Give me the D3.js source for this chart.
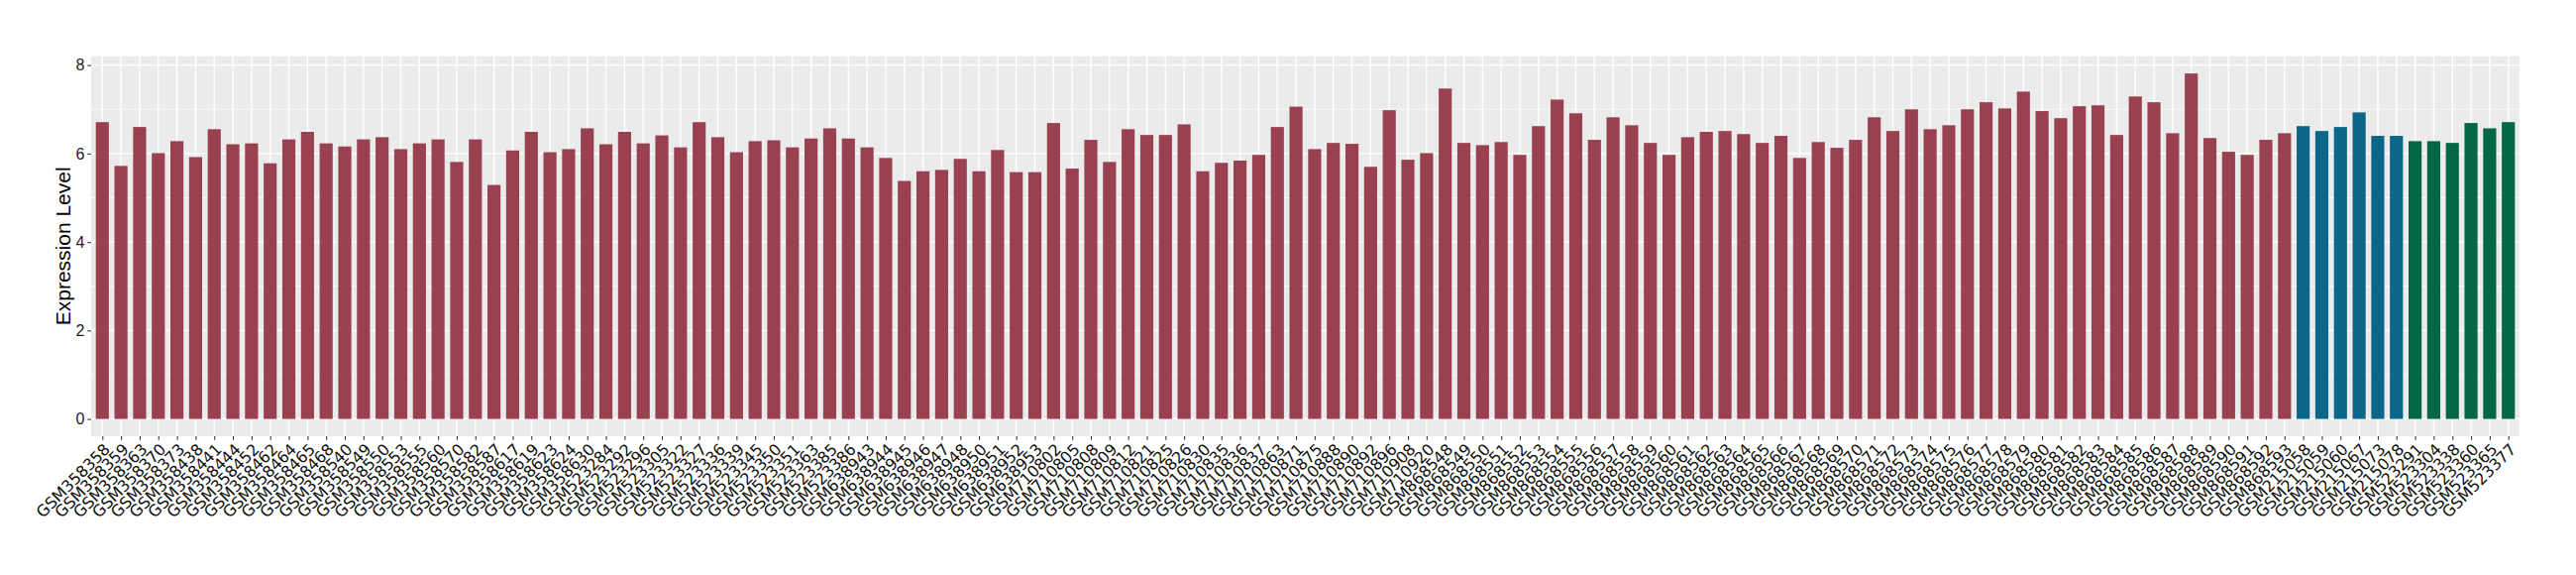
<!DOCTYPE html>
<html>
<head>
<meta charset="utf-8">
<script src="https://cdn.jsdelivr.net/npm/d3@7"></script>
<style>
  html, body { margin: 0; padding: 0; background: #ffffff; }
  svg { display: block; }
</style>
</head>
<body>
<svg id="chart" width="2600" height="580"></svg>
<script>
// ---------- DATA ----------
const categories = [
  "GSM358358","GSM358359","GSM358363","GSM358370","GSM358373","GSM358438","GSM358441","GSM358444","GSM358452","GSM358462",
  "GSM358464","GSM358465","GSM358468","GSM358540","GSM358549","GSM358550","GSM358553","GSM358555","GSM358560","GSM358570",
  "GSM358582","GSM358587","GSM358617","GSM358619","GSM358623","GSM358624","GSM358630","GSM523284","GSM523292","GSM523296",
  "GSM523305","GSM523322","GSM523327","GSM523336","GSM523339","GSM523345","GSM523350","GSM523351","GSM523363","GSM523385",
  "GSM523386","GSM638943","GSM638944","GSM638945","GSM638946","GSM638947","GSM638948","GSM638950","GSM638951","GSM638952",
  "GSM638953","GSM710802","GSM710805","GSM710808","GSM710809","GSM710812","GSM710821","GSM710825","GSM710826","GSM710830",
  "GSM710835","GSM710836","GSM710837","GSM710863","GSM710871","GSM710875","GSM710888","GSM710890","GSM710892","GSM710896",
  "GSM710908","GSM710920","GSM868548","GSM868549","GSM868550","GSM868551","GSM868552","GSM868553","GSM868554","GSM868555",
  "GSM868556","GSM868557","GSM868558","GSM868559","GSM868560","GSM868561","GSM868562","GSM868563","GSM868564","GSM868565",
  "GSM868566","GSM868567","GSM868568","GSM868569","GSM868570","GSM868571","GSM868572","GSM868573","GSM868574","GSM868575",
  "GSM868576","GSM868577","GSM868578","GSM868579","GSM868580","GSM868581","GSM868582","GSM868583","GSM868584","GSM868585",
  "GSM868586","GSM868587","GSM868588","GSM868589","GSM868590","GSM868591","GSM868592","GSM868593","GSM215058","GSM215059",
  "GSM215060","GSM215067","GSM215073","GSM215078","GSM523291","GSM523304","GSM523338","GSM523360","GSM523365","GSM523377"
];

const values = [
  6.71,5.72,6.60,6.01,6.28,5.92,6.55,6.21,6.23,5.78,
  6.32,6.49,6.23,6.16,6.32,6.37,6.10,6.23,6.32,5.81,
  6.32,5.29,6.07,6.49,6.03,6.10,6.57,6.21,6.49,6.23,
  6.41,6.14,6.71,6.37,6.03,6.28,6.30,6.14,6.34,6.57,
  6.34,6.14,5.90,5.38,5.60,5.63,5.88,5.60,6.08,5.58,
  5.58,6.69,5.66,6.31,5.81,6.55,6.42,6.42,6.66,5.60,
  5.79,5.84,5.97,6.60,7.06,6.10,6.24,6.22,5.70,6.98,
  5.86,6.01,7.47,6.24,6.19,6.26,5.97,6.62,7.22,6.91,
  6.31,6.82,6.64,6.24,5.97,6.37,6.49,6.51,6.44,6.24,
  6.40,5.90,6.26,6.13,6.31,6.82,6.51,7.00,6.55,6.64,
  7.00,7.16,7.02,7.40,6.96,6.80,7.07,7.09,6.42,7.29,
  7.16,6.46,7.81,6.35,6.04,5.97,6.31,6.46,6.62,6.51,
  6.60,6.93,6.40,6.40,6.28,6.28,6.24,6.69,6.57,6.71
];

// group sizes in order: red group, blue group, green group
const groupNames = ["group1", "group2", "group3"];
const groupSizes = [118, 6, 6];
const groupColors = ["#994150", "#0B6688", "#036645"];

const yTicks = [0, 2, 4, 6, 8];
const yMinorTicks = [1, 3, 5, 7];
const yTitle = "Expression Level";

// ---------- LAYOUT ----------
const panel = { left: 92, right: 2543, top: 56.7, bottom: 440 };
const FONT = "'Liberation Sans', Arial, Helvetica, sans-serif";
const XFONT = "'DejaVu Sans', sans-serif";

const groupOf = [];
groupSizes.forEach((n, g) => { for (let i = 0; i < n; i++) groupOf.push(groupNames[g]); });
const data = categories.map((c, i) => ({ cat: c, value: values[i], group: groupOf[i] }));

const svg = d3.select("#chart");

const x = d3.scalePoint()
  .domain(categories)
  .range([panel.left, panel.right])
  .padding(0.6);
const step = x.step();
const barW = step * 0.7;

const yMax = d3.max(values);
const pad = yMax * 0.05;
const y = d3.scaleLinear()
  .domain([0 - pad, yMax + pad])
  .range([panel.bottom, panel.top]);

const color = d3.scaleOrdinal().domain(groupNames).range(groupColors);

// panel background
svg.append("rect")
  .attr("x", panel.left).attr("y", panel.top)
  .attr("width", panel.right - panel.left)
  .attr("height", panel.bottom - panel.top)
  .attr("fill", "#EBEBEB");

// minor horizontal grid
svg.append("g").selectAll("line").data(yMinorTicks).join("line")
  .attr("x1", panel.left).attr("x2", panel.right)
  .attr("y1", d => y(d)).attr("y2", d => y(d))
  .attr("stroke", "#ffffff").attr("stroke-width", 0.7);

// major horizontal grid
svg.append("g").selectAll("line").data(yTicks).join("line")
  .attr("x1", panel.left).attr("x2", panel.right)
  .attr("y1", d => y(d)).attr("y2", d => y(d))
  .attr("stroke", "#ffffff").attr("stroke-width", 1.4);

// vertical grid
svg.append("g").selectAll("line").data(categories).join("line")
  .attr("x1", d => x(d)).attr("x2", d => x(d))
  .attr("y1", panel.top).attr("y2", panel.bottom)
  .attr("stroke", "#ffffff").attr("stroke-width", 1.4);

// bars
svg.append("g").selectAll("rect").data(data).join("rect")
  .attr("x", d => x(d.cat) - barW / 2)
  .attr("width", barW)
  .attr("y", d => y(d.value))
  .attr("height", d => y(0) - y(d.value))
  .attr("fill", d => color(d.group));

// y axis
const yAxis = d3.axisLeft(y).tickValues(yTicks).tickSize(3.7).tickPadding(3);
const gy = svg.append("g").attr("transform", `translate(${panel.left},0)`).call(yAxis);
gy.select(".domain").remove();
gy.selectAll(".tick line").attr("stroke", "#333333").attr("stroke-width", 1.1);
gy.selectAll(".tick text")
  .attr("font-family", FONT)
  .attr("font-size", 16)
  .attr("fill", "#222222");

// x axis
const xAxis = d3.axisBottom(x).tickSize(3.7).tickPadding(3);
const gx = svg.append("g").attr("transform", `translate(0,${panel.bottom})`).call(xAxis);
gx.select(".domain").remove();
gx.selectAll(".tick line").attr("stroke", "#333333").attr("stroke-width", 1.1);
gx.selectAll(".tick text")
  .attr("font-family", XFONT)
  .attr("font-size", 16)
  .attr("fill", "#111111")
  .attr("text-anchor", "end")
  .attr("y", 0)
  .attr("dy", "0.73em")
  .attr("transform", "translate(0,6) rotate(-45)");

// y title
svg.append("text")
  .attr("transform", `translate(71,${(panel.top + panel.bottom) / 2}) rotate(-90)`)
  .attr("text-anchor", "middle")
  .attr("font-family", FONT)
  .attr("font-size", 21)
  .attr("fill", "#000000")
  .text(yTitle);
</script>
</body>
</html>
